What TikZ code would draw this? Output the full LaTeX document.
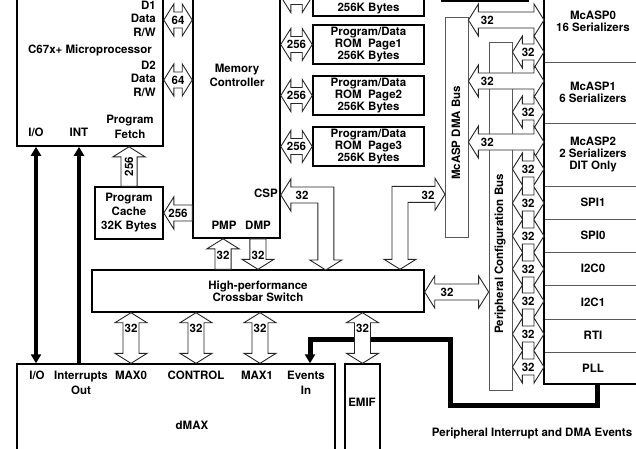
\documentclass[tikz,border=0pt]{standalone}
\usepackage{fontspec}
\setmainfont{TeX Gyre Heros}
\usetikzlibrary{arrows.meta,calc,positioning}

% wide hollow bus arrows, both ends / one end
\newcommand{\dbus}[4][pos=0.5]{%
  \draw[bus] let \p1=(#2), \p2=(#3),
    \n1={atan2(\y2-\y1,\x2-\x1)}, \n2={veclen(\x2-\x1,\y2-\y1)} in
    (\p1) -- ++({\n1+58}:18.9pt) -- ++({\n1-90}:8pt) -- ++(\n1:{\n2-20pt})
    -- ++({\n1+90}:8pt) -- ++({\n1-58}:18.9pt) -- ++({\n1-122}:18.9pt)
    -- ++({\n1+90}:8pt) -- ++({\n1+180}:{\n2-20pt}) -- ++({\n1-90}:8pt) -- cycle;
  \path (#2) -- (#3) node[buslbl,#1] {#4};}
\newcommand{\sbus}[4][pos=0.5]{%
  \draw[bus] let \p1=(#2), \p2=(#3),
    \n1={atan2(\y2-\y1,\x2-\x1)}, \n2={veclen(\x2-\x1,\y2-\y1)} in
    ($(\p1)+({\n1+90}:8pt)$) -- ++(\n1:{\n2-10pt}) -- ++({\n1+90}:8pt)
    -- ++({\n1-58}:18.9pt) -- ++({\n1-122}:18.9pt) -- ++({\n1+90}:8pt)
    -- ++({\n1+180}:{\n2-10pt}) -- cycle;
  \path (#2) -- (#3) node[buslbl,#1] {#4};}

\begin{document}
\begin{tikzpicture}[
  x=1pt, y=-1pt,
  font=\fontsize{11.5}{12}\selectfont\bfseries,
  >={Triangle[length=9pt,width=10pt]},
  blk/.style={draw=black, line width=1.6pt, fill=white, inner sep=0pt, align=center},
  thinblk/.style={draw=black!65, line width=0.8pt, fill=white, inner sep=0pt},
  perblk/.style={draw=black!65, line width=0.8pt, fill=white, inner sep=0pt,
                 outer sep=0pt, minimum width=98, align=center},
  bus/.style={draw=black!85, line width=0.9pt, fill=white, line join=miter},
  buslbl/.style={inner sep=0pt},
  txt/.style={inner sep=0pt, align=center},
  sig/.style={draw=black, line width=4pt, line join=miter}
]
\useasboundingbox (0,0) rectangle (636,448);
\clip (0,0) rectangle (636,448);

% main blocks
\node[blk, minimum width=146, minimum height=200] (cpu) at (90,46) {};
\node[blk, minimum width=87, minimum height=290] (mem) at (236.5,93) {};
\node[blk, minimum width=111, minimum height=39] (rom0) at (368.5,-3.5)
  {Program/Data\\RAM\\256K Bytes};
\node[blk, minimum width=111, minimum height=39] (rom1) at (368.5,44.5)
  {Program/Data\\ROM\ \ Page1\\256K Bytes};
\node[blk, minimum width=111, minimum height=39] (rom2) at (368.5,95.5)
  {Program/Data\\ROM\ \ Page2\\256K Bytes};
\node[blk, minimum width=111, minimum height=39] (rom3) at (368.5,146.5)
  {Program/Data\\ROM\ \ Page3\\256K Bytes};
\node[blk, minimum width=86, minimum height=30] (xtop) at (485,-14) {};
\node[blk, minimum width=68, minimum height=52] (cache) at (129,213)
  {Program\\[2pt]Cache\\[2pt]32K Bytes};
\node[blk, line width=1.4pt, minimum width=332, minimum height=42] (xbar) at (258,291)
  {High-performance\\Crossbar Switch};
\node[blk, line width=1.4pt, minimum width=318, minimum height=110] (dmax) at (176,419) {};
\node[blk, line width=1.4pt, minimum width=35, minimum height=110] (emif) at (362.5,419) {};

% buses
\node[thinblk, minimum width=23, minimum height=220] (dmabus) at (456.5,127) {};
\node[thinblk, minimum width=23, minimum height=348] (cfgbus) at (500.5,216) {};
\node[txt, rotate=90] (dmalbl) at (456,133) {McASP DMA Bus};
\node[txt, rotate=90] (cfglbl) at (500,254) {Peripheral Configuration Bus};

% peripherals
\node[perblk, minimum height=82] (mcasp0) at (593,21) {McASP0\\16 Serializers};
\node[perblk, minimum height=61, below=0pt of mcasp0] (mcasp1) {McASP1\\6 Serializers};
\node[perblk, minimum height=63, below=0pt of mcasp1] (mcasp2)
  {McASP2\\2 Serializers\\DIT Only};
\node[perblk, minimum height=33, below=0pt of mcasp2] (spi1) {SPI1};
\node[perblk, minimum height=33, below=0pt of spi1] (spi0) {SPI0};
\node[perblk, minimum height=33, below=0pt of spi0] (iic0) {I2C0};
\node[perblk, minimum height=34, below=0pt of iic0] (iic1) {I2C1};
\node[perblk, minimum height=33, below=0pt of iic1] (rti) {RTI};
\node[perblk, minimum height=32, below=0pt of rti] (pll) {PLL};
\draw[line width=1.8pt] (mcasp0.north west) -- (pll.south west) -- (pll.south east);

% block texts
\node[txt, anchor=east, align=right] (d1) at (156,18.5) {D1\\[1.5pt]Data\\[1.5pt]R/W};
\node[txt, anchor=east, align=right] (d2) at (156,78.5) {D2\\[1.5pt]Data\\[1.5pt]R/W};
\node[txt] (cpulbl) at (90,50) {C67x+ Microprocessor};
\node[txt] (fetch) at (130,126.5) {Program\\[3pt]Fetch};
\node[txt] (cpuio) at (36,132) {I/O};
\node[txt] (cpuint) at (79,132) {INT};
\node[txt] (memlbl) at (237,75) {Memory\\[2pt]Controller};
\node[txt] (csp) at (266,193) {CSP};
\node[txt] (pmp) at (224,225) {PMP};
\node[txt] (dmp) at (258,225) {DMP};
\node[txt] (mio) at (37,375) {I/O};
\node[txt] (mint) at (81,382.5) {Interrupts\\[3pt]Out};
\node[txt] (max0) at (131,375) {MAX0};
\node[txt] (ctrl) at (196,375) {CONTROL};
\node[txt] (max1) at (257,375) {MAX1};
\node[txt] (evin) at (306,382.5) {Events\\[3pt]In};
\node[txt] (dmaxlbl) at (192,425) {dMAX};
\node[txt] (emiflbl) at (362,402) {EMIF};
\node[txt] (evlbl) at (532,433) {Peripheral Interrupt and DMA Events};

% control lines
\draw[sig, line width=3.5pt, <->] (cpu.south -| 36,0) -- (dmax.north -| 36,0);
\draw[sig, line width=4.5pt, ->] (dmax.north -| 79,0) -- (cpu.south -| 79,0);
\draw[sig, line width=5pt, ->] (pll.south -| 597,0) |- (450,405) |- (310,339)
  -- (dmax.north -| 310,0);

% data buses
\dbus{cpu.east |- 0,20}{mem.west |- 0,20}{64}
\dbus{cpu.east |- 0,80}{mem.west |- 0,80}{64}
\foreach \rom in {rom0,rom1,rom2,rom3}
  \dbus{mem.east |- \rom.west}{\rom.west}{256};
\sbus{mem.west |- cache.east}{cache.east}{256}
\sbus[pos=0.5, rotate=90]{cache.north}{cache.north |- cpu.south}{256}
\sbus[pos=0.45]{xbar.north -| 223,0}{mem.south -| 223,0}{32}
\sbus[pos=0.55]{mem.south -| 258,0}{xbar.north -| 258,0}{32}

\draw[bus] (mem.east |- 0,195) -- ++(10,-16) -- ++(0,8) -- ++(43,0) -- ++(0,73)
  -- ++(8,0) -- ++(-16,10) -- ++(-16,-10) -- ++(8,0) -- ++(0,-57) -- ++(-27,0)
  -- ++(0,8) -- cycle;
\node[buslbl] (csplbl) at (302,195) {32};
\draw[bus] (xbar.north -| 400,0) -- ++(-16,-10) -- ++(8,0) -- ++(0,-73) -- ++(43,0)
  -- ++(0,-8) -- ++(10,16) -- ++(-10,16) -- ++(0,-8) -- ++(-27,0) -- ++(0,57)
  -- ++(8,0) -- cycle;
\node[buslbl] (dmalbl32) at (428,195) {32};

\dbus[pos=0.35]{xbar.east |- 0,292}{cfgbus.west |- 0,292}{32}
\foreach \xx in {131,196,260}
  \dbus[pos=0.31]{xbar.south -| \xx,0}{dmax.north -| \xx,0}{32};
\dbus[pos=0.31]{xbar.south -| emif.north}{emif.north}{32}

\foreach \yy in {20,81,142}
  \dbus[pos=0.25]{dmabus.east |- 0,\yy}{mcasp0.west |- 0,\yy}{32};
\foreach \yy in {52,112,169,203,236,269,301,334,367}
  \dbus{cfgbus.east |- 0,\yy}{pll.west |- 0,\yy}{32};
\end{tikzpicture}
\end{document}
